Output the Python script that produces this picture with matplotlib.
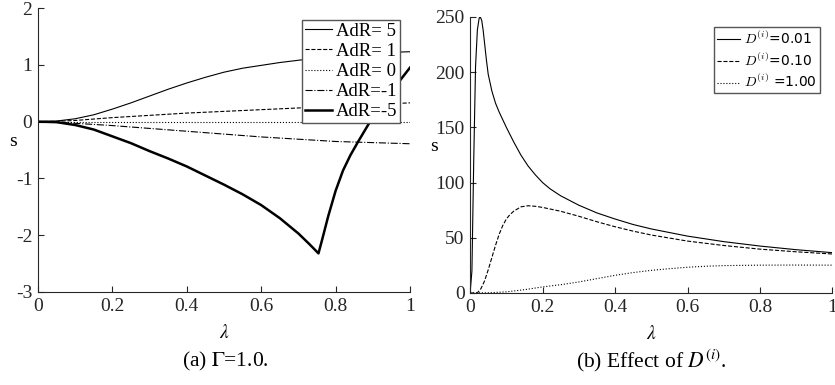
import numpy as np
import matplotlib
matplotlib.use('Agg')
import matplotlib.pyplot as plt

plt.rcParams['font.family'] = ['Liberation Serif', 'DejaVu Serif']
plt.rcParams['mathtext.fontset'] = 'stix'

# (a) Gamma = 1.0
lam_a = [0, 0.05, 0.1, 0.15, 0.2, 0.25, 0.3, 0.35, 0.4, 0.45, 0.5, 0.55, 0.6,
         0.65, 0.7, 0.75, 0.8, 0.85, 0.9, 0.95, 1.0]
adr_p5 = [0, 0.01, 0.05, 0.12, 0.22, 0.33, 0.45, 0.57, 0.68, 0.78, 0.87, 0.94,
          0.99, 1.04, 1.08, 1.12, 1.15, 1.18, 1.20, 1.22, 1.23]
adr_p1 = [0, 0.005, 0.02, 0.045, 0.07, 0.09, 0.11, 0.13, 0.15, 0.165, 0.18,
          0.195, 0.21, 0.225, 0.24, 0.255, 0.27, 0.285, 0.3, 0.315, 0.33]
adr_0 = [0] * len(lam_a)
adr_m1 = [0, -0.01, -0.03, -0.05, -0.07, -0.095, -0.12, -0.145, -0.17, -0.195,
          -0.22, -0.245, -0.27, -0.29, -0.31, -0.33, -0.35, -0.36, -0.37, -0.38, -0.39]
lam_m5 = [0, 0.05, 0.1, 0.15, 0.2, 0.25, 0.3, 0.35, 0.4, 0.45, 0.5, 0.55, 0.6,
          0.65, 0.7, 0.73, 0.754, 0.765, 0.78, 0.8, 0.82, 0.84, 0.86, 0.89,
          0.93, 0.975, 1.0]
adr_m5 = [0, -0.01, -0.06, -0.14, -0.26, -0.38, -0.52, -0.65, -0.79, -0.95, -1.11,
          -1.28, -1.47, -1.7, -1.97, -2.16, -2.32, -2.05, -1.67, -1.22, -0.86,
          -0.59, -0.36, -0.03, 0.37, 0.74, 0.95]

# (b) effect of D^(i)
lam_d1 = [0, 0.005, 0.01, 0.015, 0.02, 0.025, 0.028, 0.032, 0.036, 0.04, 0.045,
          0.05, 0.06, 0.07, 0.08, 0.1, 0.12, 0.14, 0.16, 0.18, 0.2, 0.22, 0.25,
          0.3, 0.35, 0.4, 0.45, 0.5, 0.6, 0.7, 0.8, 0.9, 1.0]
d_001 = [0, 20, 120, 205, 238, 249, 250, 247, 238, 226, 211, 198, 183, 172, 164,
         150, 137, 125, 115, 107, 100, 94.5, 88, 79.5, 72.5, 67, 62, 58, 51.5,
         46.5, 42.5, 39.2, 36.5]
lam_d2 = [0, 0.02, 0.03, 0.04, 0.05, 0.06, 0.07, 0.08, 0.09, 0.1, 0.11, 0.12,
          0.14, 0.16, 0.18, 0.2, 0.25, 0.3, 0.35, 0.4, 0.45, 0.5, 0.6, 0.7, 0.8,
          0.9, 1.0]
d_010 = [0, 0, 4, 11, 21, 32, 43, 53, 61, 67, 71, 74, 78, 79, 78.5, 77.5, 74,
         69.5, 64.5, 60, 56, 52.5, 47, 43, 39.7, 37.3, 35.3]
lam_d3 = [0, 0.05, 0.1, 0.15, 0.2, 0.25, 0.3, 0.35, 0.4, 0.45, 0.5, 0.55, 0.6,
          0.65, 0.7, 0.8, 0.9, 1.0]
d_100 = [0, 0.2, 1, 3, 5.5, 7.5, 10, 13, 16, 18.5, 20.5, 22, 23.3, 24.2, 24.8,
         25.2, 25.3, 25.2]

fig = plt.figure(figsize=(8.35, 3.85), dpi=100)
ax1 = fig.add_axes([0.0455, 0.2416, 0.4455, 0.7376])
ax2 = fig.add_axes([0.563, 0.239, 0.434, 0.717])

ax1.plot(lam_a, adr_p5, 'k-', lw=0.8, label='AdR= 5')
ax1.plot(lam_a, adr_p1, 'k--', lw=0.8, label='AdR= 1')
ax1.plot(lam_a, adr_0, 'k:', lw=0.8, label='AdR= 0')
ax1.plot(lam_a, adr_m1, 'k-.', lw=0.8, label='AdR=-1')
ax1.plot(lam_m5, adr_m5, 'k-', lw=1.8, label='AdR=-5')
ax1.set_xlim(0, 1)
ax1.set_ylim(-3, 2)
ax1.set_xticks([0, 0.2, 0.4, 0.6, 0.8, 1])
ax1.set_xticklabels(['0', '0.2', '0.4', '0.6', '0.8', '1'])
ax1.set_yticks([-3, -2, -1, 0, 1, 2])
ax1.set_yticklabels(['-3', '-2', '-1', '0', '1', '2'])
ax1.legend(loc='upper right', bbox_to_anchor=(0.973, 0.958),
           prop={'family': 'Liberation Serif', 'size': 13.5},
           fancybox=False, edgecolor='#555555', framealpha=1,
           handlelength=1.45, handletextpad=0.2, borderpad=0.15,
           labelspacing=0.16, borderaxespad=0)

ax2.plot(lam_d1, d_001, 'k-', lw=0.8, label='$D^{(i)}$=0.01')
ax2.plot(lam_d2, d_010, 'k--', lw=0.8, label='$D^{(i)}$=0.10')
ax2.plot(lam_d3, d_100, 'k:', lw=0.8, label='$D^{(i)}$ =1.00')
ax2.set_xlim(0, 1)
ax2.set_ylim(0, 250)
ax2.set_xticks([0, 0.2, 0.4, 0.6, 0.8, 1])
ax2.set_xticklabels(['0', '0.2', '0.4', '0.6', '0.8', '1'])
ax2.set_yticks([0, 50, 100, 150, 200, 250])
ax2.legend(loc='upper right', bbox_to_anchor=(0.965, 0.964),
           prop={'family': 'DejaVu Sans', 'math_fontfamily': 'cm', 'size': 10},
           fancybox=False, edgecolor='#555555', framealpha=1,
           handlelength=1.7, handletextpad=0.3, borderpad=0.2,
           labelspacing=0.35, borderaxespad=0)

for ax in (ax1, ax2):
    for side in ('top', 'right'):
        ax.spines[side].set_visible(False)
    for side in ('left', 'bottom'):
        ax.spines[side].set_color('#262626')
        ax.spines[side].set_linewidth(0.8)
    ax.tick_params(direction='in', length=4, width=0.8, color='#262626',
                   labelsize=14, labelcolor='#262626', pad=4)
    ax.set_xlabel(r'$\lambda$', fontsize=14, labelpad=7)
    ax.set_ylabel('s', fontsize=14, rotation=0, va='center', ha='center')

ax1.yaxis.set_label_coords(-0.067, 0.53)
ax2.yaxis.set_label_coords(-0.1, 0.53)

fig.text(0.27, 0.062, r'(a) $\Gamma$=1.0.', ha='center', va='center', fontsize=15.5)
fig.text(0.78, 0.062, r'(b) Effect of $D^{(i)}$.', ha='center', va='center', fontsize=15.5)

fig.savefig('out.png', dpi=100)
